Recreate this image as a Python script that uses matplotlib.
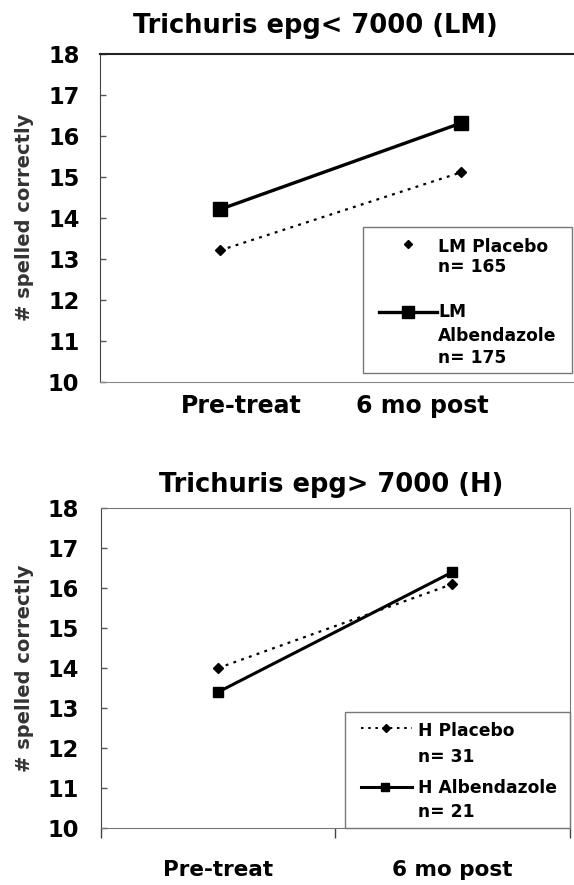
import matplotlib
matplotlib.use("Agg")
import matplotlib.pyplot as plt
import matplotlib.transforms as mtransforms
from matplotlib.lines import Line2D
from matplotlib.patches import Rectangle

# ---------------- data ----------------
categories = ["Pre-treat", "6 mo post"]
lm_placebo = [13.2, 15.1]
lm_albendazole = [14.2, 16.3]
h_placebo = [14.0, 16.1]
h_albendazole = [13.4, 16.4]
y_ticks = [10, 11, 12, 13, 14, 15, 16, 17, 18]
title_top = "Trichuris epg< 7000 (LM)"
title_bottom = "Trichuris epg> 7000 (H)"
y_label = "# spelled correctly"
legend_top = [["LM Placebo", "n= 165"], ["LM", "Albendazole", "n= 175"]]
legend_bottom = [["H Placebo", "n= 31"], ["H Albendazole", "n= 21"]]

# ---------------- layout ----------------
W, H = 574, 885
plt.rcParams['font.family'] = ['DejaVu Sans']
plt.rcParams['font.weight'] = 'bold'
fig = plt.figure(figsize=(W / 100, H / 100), dpi=100)


def P(x, y):
    return (x / W, 1 - y / H)


def box(l, t, r, b):
    return [l / W, 1 - b / H, (r - l) / W, (b - t) / H]


dot_style = (0, (1.3, 2.4))
TICK_FS = 16.3

# ---------------- top panel ----------------
ax1 = fig.add_axes(box(99.6, 53.5, 581, 381.7))
xs = list(range(len(categories)))
ax1.plot(xs, lm_placebo, color='black', lw=1.6, linestyle=dot_style,
         marker='D', markersize=4.8, zorder=3)
ax1.plot(xs, lm_albendazole, color='black', lw=2.4, linestyle='-',
         marker='s', markersize=9.4, zorder=4)
ax1.set_xlim(-0.5, 1.5)
ax1.set_ylim(10, 18)
ax1.set_yticks(y_ticks)
ax1.set_yticklabels([str(v) for v in y_ticks], fontsize=TICK_FS, fontweight='bold')
ax1.tick_params(axis='y', direction='in', length=4, width=1, color='#555555', pad=14.5)
ax1.set_xticks([0.09, 0.84])
ax1.set_xticklabels(categories, fontsize=17, fontweight='bold')
ax1.tick_params(axis='x', length=0, pad=9)
ax1.spines['right'].set_visible(False)
ax1.spines['left'].set_color('#444444')
ax1.spines['bottom'].set_color('#888888')
ax1.spines['top'].set_color('#222222')
ax1.spines['top'].set_linewidth(1.5)
ax1.set_ylabel(y_label, fontsize=14, fontweight='bold', color='#333333')
ax1.yaxis.set_label_coords(34 / W, 0.5, transform=mtransforms.blended_transform_factory(fig.transFigure, ax1.transAxes))
fig.text(*P(315, 33.3), title_top, ha='center', va='baseline', fontsize=18.5, fontweight='bold')

# top legend (drawn manually)
fig.add_artist(Rectangle(P(362.7, 373), 209 / W, 146 / H, transform=fig.transFigure,
                         fill=False, edgecolor='#777777', lw=1))
fig.add_artist(Line2D([408 / W], [1 - 244 / H], transform=fig.transFigure, marker='D',
                      markersize=4.3, color='black', linestyle='none'))
fig.add_artist(Line2D([379 / W, 437 / W], [1 - 312 / H] * 2, transform=fig.transFigure,
                      color='black', lw=2.4))
fig.add_artist(Line2D([408 / W], [1 - 312 / H], transform=fig.transFigure, marker='s',
                      markersize=8.8, color='black', linestyle='none'))
for txt, yb in zip(legend_top[0], [251.7, 271.7]):
    fig.text(*P(438, yb), txt, ha='left', va='baseline', fontsize=12.3, fontweight='bold')
for txt, yb in zip(legend_top[1], [316.7, 340.7, 362.7]):
    fig.text(*P(438, yb), txt, ha='left', va='baseline', fontsize=12.3, fontweight='bold')

# ---------------- bottom panel ----------------
ax2 = fig.add_axes(box(100.7, 508, 569.6, 828.3))
ax2.plot(xs, h_placebo, color='black', lw=1.6, linestyle=dot_style,
         marker='D', markersize=5.1, zorder=3)
ax2.plot(xs, h_albendazole, color='black', lw=2.2, linestyle='-',
         marker='s', markersize=7.4, zorder=4)
ax2.set_xlim(-0.5, 1.5)
ax2.set_ylim(10, 18)
ax2.set_yticks(y_ticks)
ax2.set_yticklabels([str(v) for v in y_ticks], fontsize=TICK_FS, fontweight='bold')
ax2.tick_params(axis='y', direction='in', length=4, width=1, color='#555555', pad=15.5)
ax2.set_xticks(xs)
ax2.set_xticklabels(categories, fontsize=15.5, fontweight='bold')
ax2.tick_params(axis='x', which='major', length=0, pad=23)
ax2.set_xticks([-0.5, 0.5, 1.5], minor=True)
ax2.tick_params(axis='x', which='minor', direction='out', length=7, width=1, color='#444444')
for s in ['top', 'right', 'bottom']:
    ax2.spines[s].set_color('#777777')
ax2.spines['left'].set_color('#444444')
ax2.set_ylabel(y_label, fontsize=14, fontweight='bold', color='#333333')
ax2.yaxis.set_label_coords(34 / W, 0.5, transform=mtransforms.blended_transform_factory(fig.transFigure, ax2.transAxes))
fig.text(*P(331.5, 491.7), title_bottom, ha='center', va='baseline', fontsize=18.5, fontweight='bold')

# bottom legend (drawn manually)
fig.add_artist(Rectangle(P(345, 828), 224.6 / W, 116 / H, transform=fig.transFigure,
                         fill=False, edgecolor='#777777', lw=1))
fig.add_artist(Line2D([361 / W, 412 / W], [1 - 728.3 / H] * 2, transform=fig.transFigure,
                      color='black', lw=1.4, linestyle=dot_style))
fig.add_artist(Line2D([386 / W], [1 - 728.3 / H], transform=fig.transFigure, marker='D',
                      markersize=4.2, color='black', linestyle='none'))
fig.add_artist(Line2D([361 / W, 412 / W], [1 - 786.7 / H] * 2, transform=fig.transFigure,
                      color='black', lw=2.2))
fig.add_artist(Line2D([385 / W], [1 - 786.7 / H], transform=fig.transFigure, marker='s',
                      markersize=5.5, color='black', linestyle='none'))
for txt, yb in zip(legend_bottom[0], [736, 761.7]):
    fig.text(*P(418.3, yb), txt, ha='left', va='baseline', fontsize=12.3, fontweight='bold')
for txt, yb in zip(legend_bottom[1], [793.3, 817.3]):
    fig.text(*P(418.3, yb), txt, ha='left', va='baseline', fontsize=12.3, fontweight='bold')

fig.savefig("out.png", dpi=100)
